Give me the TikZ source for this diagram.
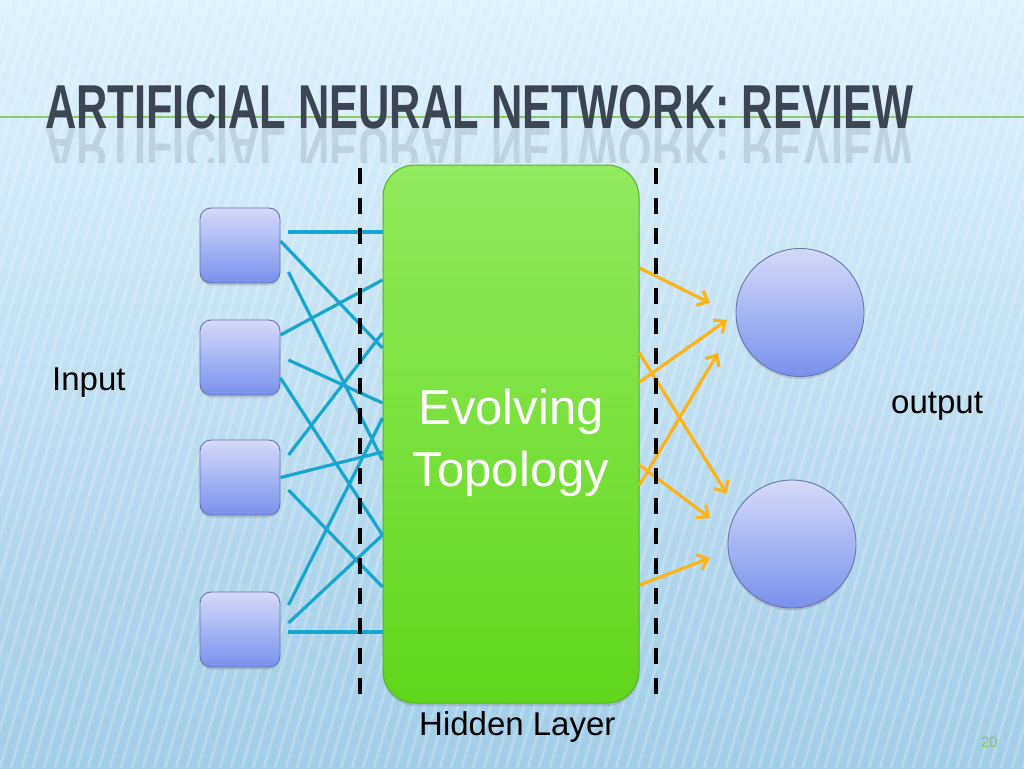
\documentclass[tikz,border=0pt]{standalone}
\usepackage{fontspec}
\setmainfont{Liberation Sans}
\usetikzlibrary{arrows.meta,shadows,calc}
\definecolor{bgtop}{RGB}{224,242,251}
\definecolor{bgbot}{RGB}{160,205,232}
\definecolor{titlecol}{RGB}{60,70,82}
\definecolor{linegreen}{RGB}{126,196,80}
\definecolor{nodetop}{RGB}{214,218,250}
\definecolor{nodebot}{RGB}{120,145,236}
\definecolor{nodeedge}{RGB}{105,118,175}
\definecolor{greentop}{RGB}{146,234,94}
\definecolor{greenbot}{RGB}{96,214,28}
\definecolor{greenedge}{RGB}{88,178,40}
\definecolor{wireblue}{RGB}{22,166,206}
\definecolor{wireorange}{RGB}{252,180,26}
\definecolor{pagenum}{RGB}{140,192,110}
\begin{document}
\begin{tikzpicture}[x=1pt,y=-1pt,
  unit/.style={draw=nodeedge, line width=0.9pt, top color=nodetop, bottom color=nodebot,
    drop shadow={opacity=0.3, shadow xshift=0pt, shadow yshift=-2.5pt}},
  inbox/.style={unit, rectangle, rounded corners=11pt, minimum width=80pt, minimum height=75pt, inner sep=0pt},
  outcirc/.style={unit, circle, minimum size=128pt, inner sep=0pt},
  hiddenbox/.style={rectangle, rounded corners=32pt, minimum width=256pt, minimum height=538pt,
    inner sep=0pt, top color=greentop, bottom color=greenbot, draw=greenedge, line width=1pt,
    drop shadow={opacity=0.3, shadow xshift=0pt, shadow yshift=-3pt}},
  wire/.style={wireblue, line width=3.2pt},
  arrowwire/.style={wireorange, line width=3.2pt, -{Straight Barb[length=9pt,width=16pt]}},
  dashline/.style={black, line width=4pt, dash pattern=on 16pt off 14pt},
  txtlabel/.style={inner sep=0pt, font=\fontsize{33}{33}\selectfont, text=black},
  stripe/.style={white, opacity=0.2, line width=3pt},
  titletext/.style={inner sep=0pt, text=titlecol, font=\bfseries}
]
\useasboundingbox (0,0) rectangle (1024,768);
% background
\shade[top color=bgtop, bottom color=bgbot] (0,0) rectangle (1024,768);
\begin{scope}
  \clip (0,0) rectangle (1024,768);
  \foreach \k in {0,...,115} { \draw[stripe] ({\k*11-220},768) -- ({\k*11},0); }
\end{scope}
% title
\draw[linegreen, line width=1.6pt, opacity=0.85] (0,117) -- (1024,117);
\node[titletext, anchor=base west] (title) at (45,128)
  {\scalebox{0.70}[1]{\fontsize{62}{62}\bfseries ARTIFICIAL NEURAL NETWORK: REVIEW}};
\begin{scope}
  \clip (0,128) rectangle (1024,162);
  \node[titletext, anchor=base west, yscale=-1, opacity=0.15] (titlerefl) at (45,128)
    {\scalebox{0.70}[1]{\fontsize{62}{62}\bfseries ARTIFICIAL NEURAL NETWORK: REVIEW}};
\end{scope}
% nodes
\node[inbox] (in1) at (240,245.5) {};
\node[inbox] (in2) at (240,357.5) {};
\node[inbox] (in3) at (240,477.5) {};
\node[inbox] (in4) at (240,629.5) {};
\node[hiddenbox] (hid) at (511,434) {};
\node[outcirc] (out1) at (800,312.5) {};
\node[outcirc] (out2) at (792,544) {};
% input -> hidden wires
\draw[wire] ($(in1.east)+(8,-13.5)$) -- (hid.west |- 0,232);
\draw[wire] ($(in1.east)+(0,-4.5)$) -- (hid.west |- 0,348);
\draw[wire] ($(in1.east)+(8,26.5)$) -- (hid.west |- 0,460);
\draw[wire] ($(in2.east)+(0,-22.5)$) -- (hid.west |- 0,280);
\draw[wire] ($(in2.east)+(8,2.5)$) -- (hid.west |- 0,403);
\draw[wire] ($(in2.east)+(0,20.5)$) -- (hid.west |- 0,535);
\draw[wire] ($(in3.east)+(8,-22.5)$) -- (hid.west |- 0,333);
\draw[wire] ($(in3.east)+(0,0)$) -- (hid.west |- 0,452);
\draw[wire] ($(in3.east)+(8,12.5)$) -- (hid.west |- 0,587);
\draw[wire] ($(in4.east)+(8,-24.5)$) -- (hid.west |- 0,418);
\draw[wire] ($(in4.east)+(8,-6.5)$) -- (hid.west |- 0,535);
\draw[wire] ($(in4.east)+(8,2.5)$) -- (hid.west |- 0,632);
% hidden -> output arrows
\draw[arrowwire] (hid.east |- 0,268) -- ($(out1.center)+(-90,-9.5)$);
\draw[arrowwire] (hid.east |- 0,382) -- ($(out1.center)+(-73,7.5)$);
\draw[arrowwire] (hid.east |- 0,353) -- ($(out2.center)+(-65,-50)$);
\draw[arrowwire] (hid.east |- 0,485) -- ($(out1.center)+(-82,40.5)$);
\draw[arrowwire] (hid.east |- 0,465) -- ($(out2.center)+(-82,-26)$);
\draw[arrowwire] (hid.east |- 0,585) -- ($(out2.center)+(-82,14)$);
% dashed separators
\coordinate (dl1) at (360,168); \coordinate (dl2) at (360,694);
\coordinate (dr1) at (656,168); \coordinate (dr2) at (656,694);
\draw[dashline] (dl1) -- (dl2);
\draw[dashline] (dr1) -- (dr2);
% texts
\node[align=center, text=white, inner sep=0pt, font=\fontsize{49}{62}\selectfont] (hidtxt) at (511,443) {Evolving\\Topology};
\node[txtlabel, anchor=base west] (inlbl) at (52,390) {Input};
\node[txtlabel, anchor=base west] (outlbl) at (891,413) {output};
\node[txtlabel, anchor=base west] (hidlbl) at (419,735) {Hidden Layer};
\node[anchor=base east, inner sep=0pt, text=pagenum, font=\fontsize{15}{15}\selectfont] (pnum) at (998,747) {20};
\end{tikzpicture}
\end{document}
